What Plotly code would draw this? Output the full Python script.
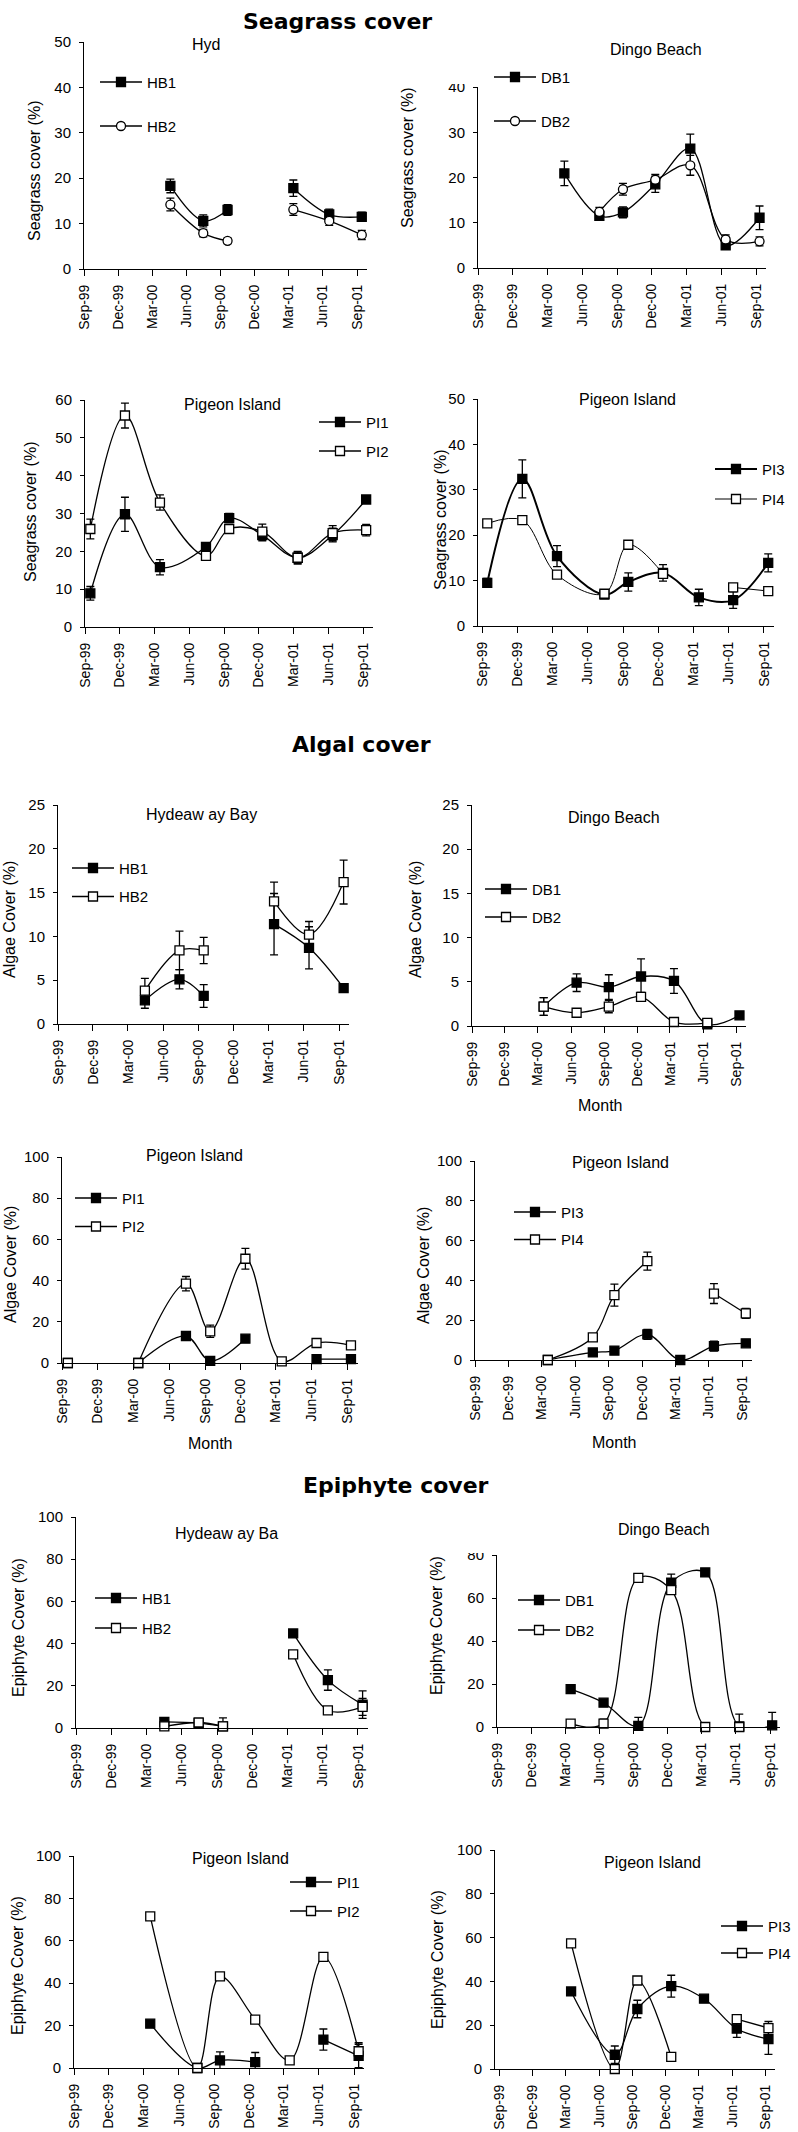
import plotly.graph_objects as go
import pandas as pd

W, H = 798, 2132
FONT = "Liberation Sans, Arial, sans-serif"
TITLE_FONT = "Comic Sans MS, DejaVu Sans, sans-serif"

TICK_DATES = ["1999-09-01", "1999-12-01", "2000-03-01", "2000-06-01", "2000-09-01",
              "2000-12-01", "2001-03-01", "2001-06-01", "2001-09-01"]
TICK_LABELS = ["Sep-99", "Dec-99", "Mar-00", "Jun-00", "Sep-00",
               "Dec-00", "Mar-01", "Jun-01", "Sep-01"]

# ---------------- Seagrass cover ----------------
SG_HB_DATES = ["2000-04-19", "2000-07-16", "2000-09-19", "2000-12-15", "2001-03-14", "2001-06-18", "2001-09-13"]
SG_HB1 = [18.3, 10.6, 13.0, None, 17.8, 12.0, 11.5]
SG_HB1_ERR = [1.5, 1.3, 1.2, 0, 1.8, 1.2, 1.0]
SG_HB2 = [14.2, 7.9, 6.2, None, 13.1, 10.6, 7.5]
SG_HB2_ERR = [1.4, 0.8, 0.6, 0, 1.3, 1.0, 1.0]

SG_DB_DATES = ["2000-04-15", "2000-07-16", "2000-09-16", "2000-12-10", "2001-03-12", "2001-06-13", "2001-09-10"]
SG_DB1 = [20.9, 11.5, 12.3, 18.5, 26.4, 5.0, 11.1]
SG_DB1_ERR = [2.7, 0.8, 1.2, 1.8, 3.2, 0.8, 2.6]
SG_DB2 = [None, 12.4, 17.4, 19.5, 22.7, 6.3, 5.9]
SG_DB2_ERR = [0, 1.0, 1.3, 1.2, 2.2, 1.0, 1.0]

SG_PI12_DATES = ["1999-09-15", "1999-12-15", "2000-03-16", "2000-07-15", "2000-09-14",
                 "2000-12-10", "2001-03-13", "2001-06-13", "2001-09-09"]
SG_PI1 = [8.9, 29.8, 15.8, 21.2, 28.8, 24.3, 18.3, 24.3, 33.7]
SG_PI1_ERR = [1.8, 4.5, 2.0, 1.0, 1.2, 1.5, 1.5, 1.8, 1.0]
SG_PI2 = [25.9, 55.9, 32.9, 18.8, 25.9, 25.2, 18.3, 24.8, 25.6]
SG_PI2_ERR = [2.6, 3.3, 2.0, 1.0, 1.0, 2.0, 1.7, 2.0, 1.5]

SG_PI34_DATES = ["1999-09-14", "1999-12-14", "2000-03-13", "2000-07-14", "2000-09-14",
                 "2000-12-13", "2001-03-16", "2001-06-13", "2001-09-12"]
SG_PI3 = [9.5, 32.4, 15.4, 6.9, 9.7, 11.7, 6.3, 5.7, 13.9]
SG_PI3_ERR = [1.0, 4.2, 2.3, 0.8, 2.0, 1.8, 1.8, 1.8, 2.0]
SG_PI4 = [22.6, 23.3, 11.3, 7.1, 17.9, 11.5, None, 8.5, 7.7]
SG_PI4_ERR = [0, 0, 0, 0, 0, 0, 0, 0, 0]

# ---------------- Algal cover ----------------
AL_HB_DATES = ["2000-04-14", "2000-07-13", "2000-09-14", "2000-12-15", "2001-03-16", "2001-06-15", "2001-09-13"]
AL_HB1 = [2.7, 5.1, 3.2, None, 11.4, 8.7, 4.1]
AL_HB1_ERR = [0.9, 1.1, 1.3, 0, 3.5, 2.4, 0.5]
AL_HB2 = [3.8, 8.4, 8.4, None, 14.0, 10.2, 16.2]
AL_HB2_ERR = [1.4, 2.2, 1.5, 0, 2.2, 1.5, 2.5]

AL_DB_DATES = ["2000-03-17", "2000-06-16", "2000-09-13", "2000-12-11", "2001-03-12", "2001-06-12", "2001-09-09"]
AL_DB1 = [2.2, 4.9, 4.4, 5.6, 5.1, 0.2, 1.2]
AL_DB1_ERR = [1.0, 1.0, 1.4, 2.0, 1.4, 0.2, 0.3]
AL_DB2 = [2.2, 1.5, 2.2, 3.3, 0.45, 0.35, None]
AL_DB2_ERR = [1.0, 0.3, 0.7, 0.5, 0.2, 0.2, 0]

AL_PI12_DATES = ["1999-09-16", "1999-12-15", "2000-03-14", "2000-07-14", "2000-09-14",
                 "2000-12-13", "2001-03-16", "2001-06-13", "2001-09-09"]
AL_PI1 = [0, None, 0, 13.1, 1.0, 11.8, None, 1.9, 1.9]
AL_PI1_ERR = [0, 0, 0, 1.0, 0.5, 1.0, 0, 0.5, 0.5]
AL_PI2 = [0, None, 0, 38.5, 15.4, 50.6, 0.8, 9.7, 8.6]
AL_PI2_ERR = [0, 0, 0, 3.5, 3.0, 5.0, 0.5, 1.0, 1.0]

AL_PI34_DATES = ["2000-03-18", "2000-07-19", "2000-09-16", "2000-12-15", "2001-03-15", "2001-06-15", "2001-09-10"]
AL_PI3 = [0, 3.8, 4.7, 12.9, 0, 7.0, 8.4]
AL_PI3_ERR = [0, 0.5, 1.0, 2.5, 0, 2.5, 1.5]
AL_PI4 = [0, 11.4, 32.6, 49.7, None, 33.4, 23.4]
AL_PI4_ERR = [0, 1.0, 5.5, 4.5, 0, 5.0, 2.5]

# ---------------- Epiphyte cover ----------------
EP_HB_DATES = ["2000-04-17", "2000-07-15", "2000-09-16", "2000-12-15", "2001-03-17", "2001-06-15", "2001-09-13"]
EP_HB1 = [2.9, 2.3, 0.8, None, 44.8, 22.7, 11.1]
EP_HB1_ERR = [0.5, 0.5, 0.5, 0, 1.0, 4.8, 6.5]
EP_HB2 = [0.8, 2.6, 0.8, None, 34.9, 8.4, 10.0]
EP_HB2_ERR = [0.5, 0.5, 4.0, 0, 1.0, 0.5, 4.0]

EP_DB_DATES = ["2000-03-16", "2000-06-12", "2000-09-13", "2000-12-10", "2001-03-11", "2001-06-10", "2001-09-06"]
EP_DB1 = [17.6, 11.3, 0.5, 67.1, 71.9, 0.3, 0.8]
EP_DB1_ERR = [0.5, 0.5, 4.0, 4.0, 1.0, 1.0, 6.0]
EP_DB2 = [1.6, 1.6, 69.4, 63.7, 0, 0, None]
EP_DB2_ERR = [0.5, 2.0, 1.0, 1.0, 0, 6.0, 0]

EP_PI12_DATES = ["2000-03-18", "2000-07-19", "2000-09-16", "2000-12-17", "2001-03-17", "2001-06-13", "2001-09-13"]
EP_PI1 = [20.9, 0, 3.6, 2.8, None, 13.4, 5.7]
EP_PI1_ERR = [1.0, 0.5, 4.0, 4.5, 0, 5.0, 5.5]
EP_PI2 = [71.5, 0, 43.2, 22.8, 3.6, 52.4, 7.9]
EP_PI2_ERR = [1.0, 0.5, 1.0, 1.0, 1.0, 1.0, 4.0]

EP_PI34_DATES = ["2000-03-16", "2000-07-14", "2000-09-14", "2000-12-16", "2001-03-16", "2001-06-14", "2001-09-09"]
EP_PI3 = [35.4, 6.5, 27.4, 37.8, 32.1, 18.4, 13.7]
EP_PI3_ERR = [1.0, 4.0, 4.0, 5.0, 1.0, 4.0, 7.0]
EP_PI4 = [57.4, 0, 40.4, 5.5, None, 22.8, 18.7]
EP_PI4_ERR = [0, 0, 0, 0, 0, 0, 3.0]

SECTION_TITLES = ["Seagrass cover", "Algal cover", "Epiphyte cover"]

# marker styles: (symbol, fill)
FILLED_SQ = ("square", "black")
OPEN_SQ = ("square", "white")
OPEN_CI = ("circle", "white")

# panel layout (pixels)
PANELS = [
    dict(x0=84, x1=367, yt=42, yb=269, ymax=50, dt=10, start=0.0,
         title="Hyd", tpos=(206, 45), ytitle="Seagrass cover (%)", ypos=(35, 171),
         leg=(100, 82, 44), width=1.3,
         series=[("HB1", SG_HB_DATES, SG_HB1, SG_HB1_ERR, FILLED_SQ),
                 ("HB2", SG_HB_DATES, SG_HB2, SG_HB2_ERR, OPEN_CI)]),
    dict(x0=478, x1=766, yt=87, yb=268, ymax=40, dt=10, start=0.0,
         title="Dingo Beach", tpos=(656, 49), ytitle="Seagrass cover (%)", ypos=(408, 158),
         leg=(494, 77, 44), width=1.3,
         series=[("DB1", SG_DB_DATES, SG_DB1, SG_DB1_ERR, FILLED_SQ),
                 ("DB2", SG_DB_DATES, SG_DB2, SG_DB2_ERR, OPEN_CI)]),
    dict(x0=85, x1=373, yt=400, yb=627, ymax=60, dt=10, start=0.0,
         title="Pigeon Island", tpos=(232, 405), ytitle="Seagrass cover (%)", ypos=(30, 512),
         leg=(319, 422, 29), width=1.3,
         series=[("PI1", SG_PI12_DATES, SG_PI1, SG_PI1_ERR, FILLED_SQ),
                 ("PI2", SG_PI12_DATES, SG_PI2, SG_PI2_ERR, OPEN_SQ)]),
    dict(x0=478, x1=774, yt=399, yb=626, ymax=50, dt=10, start=-0.11,
         title="Pigeon Island", tpos=(627, 400), ytitle="Seagrass cover (%)", ypos=(440, 520),
         leg=(715, 469, 30), width=1.0,
         series=[("PI3", SG_PI34_DATES, SG_PI3, SG_PI3_ERR, FILLED_SQ),
                 ("PI4", SG_PI34_DATES, SG_PI4, SG_PI4_ERR, OPEN_SQ)]),
    dict(x0=58, x1=349, yt=805, yb=1024, ymax=25, dt=5, start=0.0,
         title="Hydeaw ay Bay", tpos=(201, 814), ytitle="Algae Cover (%)", ypos=(10, 920),
         leg=(72, 868, 28.5), width=1.3,
         series=[("HB1", AL_HB_DATES, AL_HB1, AL_HB1_ERR, FILLED_SQ),
                 ("HB2", AL_HB_DATES, AL_HB2, AL_HB2_ERR, OPEN_SQ)]),
    dict(x0=472, x1=746, yt=805, yb=1026, ymax=25, dt=5, start=0.0,
         title="Dingo Beach", tpos=(614, 817), ytitle="Algae Cover (%)", ypos=(416, 920),
         leg=(485, 889, 28), width=1.3, month=(600, 1105),
         series=[("DB1", AL_DB_DATES, AL_DB1, AL_DB1_ERR, FILLED_SQ),
                 ("DB2", AL_DB_DATES, AL_DB2, AL_DB2_ERR, OPEN_SQ)]),
    dict(x0=62, x1=358, yt=1157, yb=1363, ymax=100, dt=20, start=0.0,
         title="Pigeon Island", tpos=(194, 1155), ytitle="Algae Cover (%)", ypos=(10, 1265),
         leg=(75, 1198, 28.5), width=1.3, month=(210, 1443),
         series=[("PI1", AL_PI12_DATES, AL_PI1, AL_PI1_ERR, FILLED_SQ),
                 ("PI2", AL_PI12_DATES, AL_PI2, AL_PI2_ERR, OPEN_SQ)]),
    dict(x0=475, x1=752, yt=1161, yb=1360, ymax=100, dt=20, start=0.0,
         title="Pigeon Island", tpos=(620, 1162), ytitle="Algae Cover (%)", ypos=(423, 1266),
         leg=(514, 1212, 27.5), width=1.3, month=(614, 1442),
         series=[("PI3", AL_PI34_DATES, AL_PI3, AL_PI3_ERR, FILLED_SQ),
                 ("PI4", AL_PI34_DATES, AL_PI4, AL_PI4_ERR, OPEN_SQ)]),
    dict(x0=76, x1=368, yt=1517, yb=1728, ymax=100, dt=20, start=0.0,
         title="Hydeaw ay Ba", tpos=(173, 1533), ytitle="Epiphyte Cover (%)", ypos=(18, 1628),
         leg=(95, 1598, 30), width=1.3,
         series=[("HB1", EP_HB_DATES, EP_HB1, EP_HB1_ERR, FILLED_SQ),
                 ("HB2", EP_HB_DATES, EP_HB2, EP_HB2_ERR, OPEN_SQ)]),
    dict(x0=497, x1=780, yt=1555, yb=1727, ymax=80, dt=20, start=0.0,
         title="Dingo Beach", tpos=(664, 1529), ytitle="Epiphyte Cover (%)", ypos=(436, 1626),
         leg=(518, 1600, 30), width=1.3,
         series=[("DB1", EP_DB_DATES, EP_DB1, EP_DB1_ERR, FILLED_SQ),
                 ("DB2", EP_DB_DATES, EP_DB2, EP_DB2_ERR, OPEN_SQ)]),
    dict(x0=74, x1=364, yt=1856, yb=2068, ymax=100, dt=20, start=0.0,
         title="Pigeon Island", tpos=(240, 1858), ytitle="Epiphyte Cover (%)", ypos=(17, 1966),
         leg=(290, 1882, 29), width=1.3,
         series=[("PI1", EP_PI12_DATES, EP_PI1, EP_PI1_ERR, FILLED_SQ),
                 ("PI2", EP_PI12_DATES, EP_PI2, EP_PI2_ERR, OPEN_SQ)]),
    dict(x0=495, x1=775, yt=1850, yb=2069, ymax=100, dt=20, start=-0.13,
         title="Pigeon Island", tpos=(652, 1862), ytitle="Epiphyte Cover (%)", ypos=(438, 1960),
         leg=(721, 1926, 27), width=1.3,
         series=[("PI3", EP_PI34_DATES, EP_PI3, EP_PI3_ERR, FILLED_SQ),
                 ("PI4", EP_PI34_DATES, EP_PI4, EP_PI4_ERR, OPEN_SQ)]),
]

BASE = pd.Timestamp("1999-09-01")


def qdate(q):
    return (BASE + pd.Timedelta(days=q * 91.3)).strftime("%Y-%m-%d")


def px_x(v):
    return v / W


def px_y(v):
    return 1 - v / H


fig = go.Figure()
layout = dict(
    width=W, height=H, autosize=False,
    margin=dict(l=0, r=0, t=0, b=0, pad=0),
    paper_bgcolor="white", plot_bgcolor="white",
    font=dict(family=FONT, color="black"),
    annotations=[], shapes=[],
)

ITEM_H = 15 * 1.3 + 3
ITEM_W = 42

for i, p in enumerate(PANELS, start=1):
    sfx = "" if i == 1 else str(i)
    xref, yref = "x" + sfx, "y" + sfx
    legname = "legend" + sfx
    for j, (name, dates, vals, err, (sym, fill)) in enumerate(p["series"]):
        lw = p["width"] if j == 1 else (2.0 if i == 4 else p["width"])
        fig.add_trace(go.Scatter(
            x=dates, y=vals, name=name, mode="lines+markers",
            xaxis=xref, yaxis=yref, legend=legname, legendgroup=f"g{i}_{j}",
            connectgaps=False, cliponaxis=False,
            line=dict(color="black", width=lw, shape="spline", smoothing=1.0),
            marker=dict(symbol=sym, size=9, color=fill, line=dict(color="black", width=1.3)),
            error_y=dict(type="data", array=err, visible=True, color="black",
                         thickness=1.3, width=4),
        ))
    layout["xaxis" + sfx] = dict(
        type="date", domain=[px_x(p["x0"]), px_x(p["x1"])],
        range=[qdate(p["start"]), qdate(8.3)], anchor=yref, automargin=False,
        tickvals=TICK_DATES, ticktext=TICK_LABELS, tickangle=-90,
        tickfont=dict(family=FONT, size=14, color="black"),
        ticks="outside", ticklen=6, tickcolor="black", tickwidth=1, ticklabelstandoff=3,
        showline=True, linecolor="black", linewidth=1, showgrid=False, zeroline=False,
        fixedrange=True,
    )
    layout["yaxis" + sfx] = dict(
        domain=[px_y(p["yb"]), px_y(p["yt"])], range=[0, p["ymax"]], dtick=p["dt"],
        anchor=xref, automargin=False, tickfont=dict(family=FONT, size=15, color="black"),
        ticks="outside", ticklen=4, tickcolor="black", tickwidth=1, ticklabelstandoff=5,
        showline=True, linecolor="black", linewidth=1, showgrid=False, zeroline=False,
        fixedrange=True,
    )
    lx, ly, sp = p["leg"]
    layout[legname] = dict(
        x=px_x(lx - 5), y=px_y(ly - 16.25), xanchor="left", yanchor="top",
        bgcolor="rgba(0,0,0,0)", borderwidth=0, traceorder="grouped",
        tracegroupgap=max(sp - ITEM_H, 0), itemwidth=ITEM_W,
        font=dict(family=FONT, size=15, color="black"),
    )
    tx, ty = p["tpos"]
    layout["annotations"].append(dict(
        text=p["title"], x=px_x(tx), y=px_y(ty), xref="paper", yref="paper",
        xanchor="left" if p["title"] == "Hydeaw ay Ba" else "center", yanchor="middle",
        showarrow=False, font=dict(family=FONT, size=16, color="black")))
    yx, yy = p["ypos"]
    layout["annotations"].append(dict(
        text=p["ytitle"], x=px_x(yx), y=px_y(yy), xref="paper", yref="paper",
        xanchor="center", yanchor="middle", textangle=-90, showarrow=False,
        font=dict(family=FONT, size=16, color="black")))
    if p.get("month"):
        mx, my = p["month"]
        layout["annotations"].append(dict(
            text="Month", x=px_x(mx), y=px_y(my),
            xref="paper", yref="paper", xanchor="center", yanchor="middle",
            showarrow=False, font=dict(family=FONT, size=16, color="black")))

for txt, (cx, cy) in zip(SECTION_TITLES, [(337, 21), (361, 744), (396, 1485)]):
    layout["annotations"].append(dict(
        text="<b>" + txt + "</b>", x=px_x(cx), y=px_y(cy), xref="paper", yref="paper",
        xanchor="center", yanchor="middle", showarrow=False,
        font=dict(family=TITLE_FONT, size=22, color="black")))

# white masks that clip the top tick labels, as in the original
for (mx0, my0, mx1, my1) in [(438, 66, 474, 84), (458, 1535, 493, 1553)]:
    layout["shapes"].append(dict(
        type="rect", xref="paper", yref="paper", x0=px_x(mx0), x1=px_x(mx1),
        y0=px_y(my1), y1=px_y(my0), fillcolor="white", line=dict(width=0), layer="above"))

fig.update_layout(**layout)
fig.write_html("out.html", config={"displayModeBar": False},
               post_script="document.body.style.margin='0';document.body.style.padding='0';")
